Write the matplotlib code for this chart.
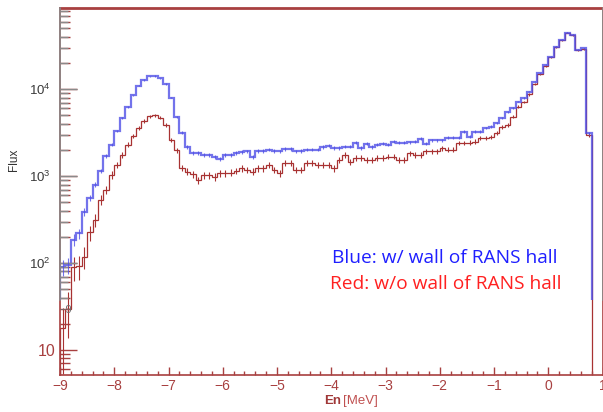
import matplotlib.pyplot as plt
import numpy as np
from matplotlib.ticker import MultipleLocator, LogLocator, FuncFormatter, NullFormatter

plt.rcParams['font.family'] = ['Liberation Sans', 'DejaVu Sans']

# 100 bins of 0.1 MeV between -9 and 1 MeV
x_lo, x_hi, n_bins = -9.0, 1.0, 100

# flux per bin (last two bins empty)
blue_flux = [
    90, 95, 186, 220, 390, 560, 800, 1150, 1700, 2300,
    3300, 4700, 6300, 8500, 11000, 12800, 14100, 14200, 13300, 11500,
    8000, 4800, 3150, 2170, 1850, 1850, 1760, 1760, 1670, 1580,
    1760, 1760, 1850, 1900, 1920, 1670, 1950, 1950, 2010, 1950,
    1920, 2060, 2060, 1920, 1950, 2010, 2010, 2010, 2170, 2230,
    2110, 2110, 2190, 2190, 2410, 2110, 2350, 2170, 2290, 2350,
    2290, 2500, 2410, 2410, 2450, 2500, 2690, 2350, 2570, 2570,
    2570, 2760, 2760, 2760, 3260, 2850, 3260, 3260, 3590, 3710,
    4060, 4680, 5530, 6100, 7200, 7880, 9380, 12200, 15300, 19000,
    23700, 30900, 36900, 44700, 42100, 28300, 29500, 3120, 0, 0,
]
red_flux = [
    18, 30, 90, 92, 119, 225, 315, 535, 700, 1035,
    1350, 1750, 2300, 2900, 3600, 4300, 4900, 5000, 4700, 3900,
    2610, 2000, 1250, 1130, 1050, 900, 1030, 1030, 980, 1080,
    1080, 1100, 1150, 1230, 1180, 1130, 1230, 1230, 1340, 1180,
    1080, 1410, 1410, 1180, 1180, 1410, 1410, 1340, 1340, 1340,
    1230, 1540, 1760, 1470, 1610, 1610, 1540, 1540, 1610, 1610,
    1680, 1680, 1540, 1540, 1840, 1760, 1760, 1920, 1920, 1920,
    2100, 2010, 2010, 2400, 2400, 2430, 2500, 2740, 2740, 2800,
    3120, 3710, 3890, 4840, 6300, 7100, 8700, 11500, 14800, 18600,
    23300, 30500, 36500, 44500, 42000, 28000, 29000, 2950, 0, 0,
]

label_blue = "Blue: w/ wall of RANS hall"
label_red = "Red: w/o wall of RANS hall"

W, H = 603, 412
RED_AX = '#a84040'
GRAY_AX = '#8a8a8a'
BLUE_LINE = '#5050e6'
RED_LINE = '#a83232'


def box(x0, y0, x1, y1):
    """pixel box (top-left origin) -> figure fraction rect"""
    return [x0 / W, 1 - y1 / H, (x1 - x0) / W, (y1 - y0) / H]


def draw_hist(ax, vals, color, lw, rel, alpha=1.0):
    vals = np.asarray(vals, float)
    edges = np.linspace(x_lo, x_hi, n_bins + 1)
    centers = 0.5 * (edges[1:] + edges[:-1])
    ax.stairs(vals, edges, color=color, lw=lw, alpha=alpha)
    ok = vals > 0
    err = rel * np.sqrt(vals[ok])  # sqrt(N)-like statistical bars
    ax.errorbar(centers[ok], vals[ok], yerr=err, fmt='none',
                ecolor=color, elinewidth=0.8, capsize=0, alpha=alpha)


fig = plt.figure(figsize=(W / 100, H / 100), dpi=100)

# --- red (w/o wall) frame: the full one, down to ~5 -----------------------
ax = fig.add_axes(box(60, 7.5, 602.5, 375))
ax.set_xlim(x_lo, x_hi)
ax.set_yscale('log')
ax.set_ylim(5.16, 87000)
for s in ax.spines.values():
    s.set_color(RED_AX)
    s.set_linewidth(1.2)
ax.spines['top'].set_linewidth(2)
draw_hist(ax, red_flux, RED_LINE, 0.9, 3.0)

ax.xaxis.set_major_locator(MultipleLocator(1))
ax.xaxis.set_minor_locator(MultipleLocator(0.2))
ax.yaxis.set_major_locator(LogLocator(base=10, numticks=10))
ax.yaxis.set_minor_locator(LogLocator(base=10, subs=np.arange(2, 10), numticks=10))
ax.yaxis.set_major_formatter(FuncFormatter(lambda v, _: '10' if abs(v - 10) < 1e-6 else ''))
ax.yaxis.set_minor_formatter(NullFormatter())
ax.tick_params(axis='x', which='major', direction='in', length=6, width=1,
               colors=RED_AX, labelsize=10, pad=3, top=False)
ax.tick_params(axis='x', which='minor', direction='in', length=3, width=1,
               colors=RED_AX, top=False)
ax.tick_params(axis='y', which='major', direction='in', length=12, width=1,
               colors=RED_AX, labelsize=11.5, pad=3.5, right=False)
ax.tick_params(axis='y', which='minor', direction='in', length=7, width=1,
               colors=RED_AX, right=False)

# --- gray (w/ wall) frame overlaid, bottom at ~38 ------------------------
gax = fig.add_axes(box(60, 7.5, 602.5, 300))
gax.set_facecolor('none')
gax.set_xlim(x_lo, x_hi)
gax.set_yscale('log')
gax.set_ylim(37.6, 87000)
gax.spines['top'].set_visible(False)
gax.spines['bottom'].set_visible(False)
gax.spines['left'].set_color(GRAY_AX)
gax.spines['right'].set_color(GRAY_AX)
gax.spines['left'].set_linewidth(1.2)
gax.spines['right'].set_linewidth(1.2)
draw_hist(gax, blue_flux, BLUE_LINE, 1.6, 2.0, alpha=0.8)
gax.set_xticks([])
gax.yaxis.set_major_locator(LogLocator(base=10, numticks=10))
gax.yaxis.set_minor_locator(LogLocator(base=10, subs=np.arange(2, 10), numticks=10))
gax.yaxis.set_minor_formatter(NullFormatter())
gax.tick_params(axis='y', which='major', direction='in', length=12, width=1,
                colors=GRAY_AX, labelcolor='#3a3a3a', labelsize=9.5, pad=7, right=False)
gax.tick_params(axis='y', which='minor', direction='in', length=6, width=1,
                colors=GRAY_AX, right=False)
fig.text(66 / W, 1 - 310 / H, '\u22129', color='#707070', fontsize=8,
         ha='center', va='center')

# --- labels ----------------------------------------------------------------
fig.text(14 / W, 1 - 160 / H, 'Flux', rotation=90, fontsize=8.5,
         color='#333333', ha='center', va='center')
fig.text(324 / W, 1 - 401 / H, 'En', fontsize=9.5, fontweight='bold',
         color='#a03838', ha='left', va='center')
fig.text(343 / W, 1 - 401 / H, '[MeV]', fontsize=9.5,
         color='#c05050', ha='left', va='center')

fig.text(332 / W, 1 - 263 / H, label_blue, fontsize=13.8, color='#1f1fff',
         family=['Open Sans', 'DejaVu Sans'], ha='left', va='baseline')
fig.text(330 / W, 1 - 289 / H, label_red, fontsize=13.8, color='#ff2020',
         family=['Open Sans', 'DejaVu Sans'], ha='left', va='baseline')

fig.savefig('out.png', dpi=100)
